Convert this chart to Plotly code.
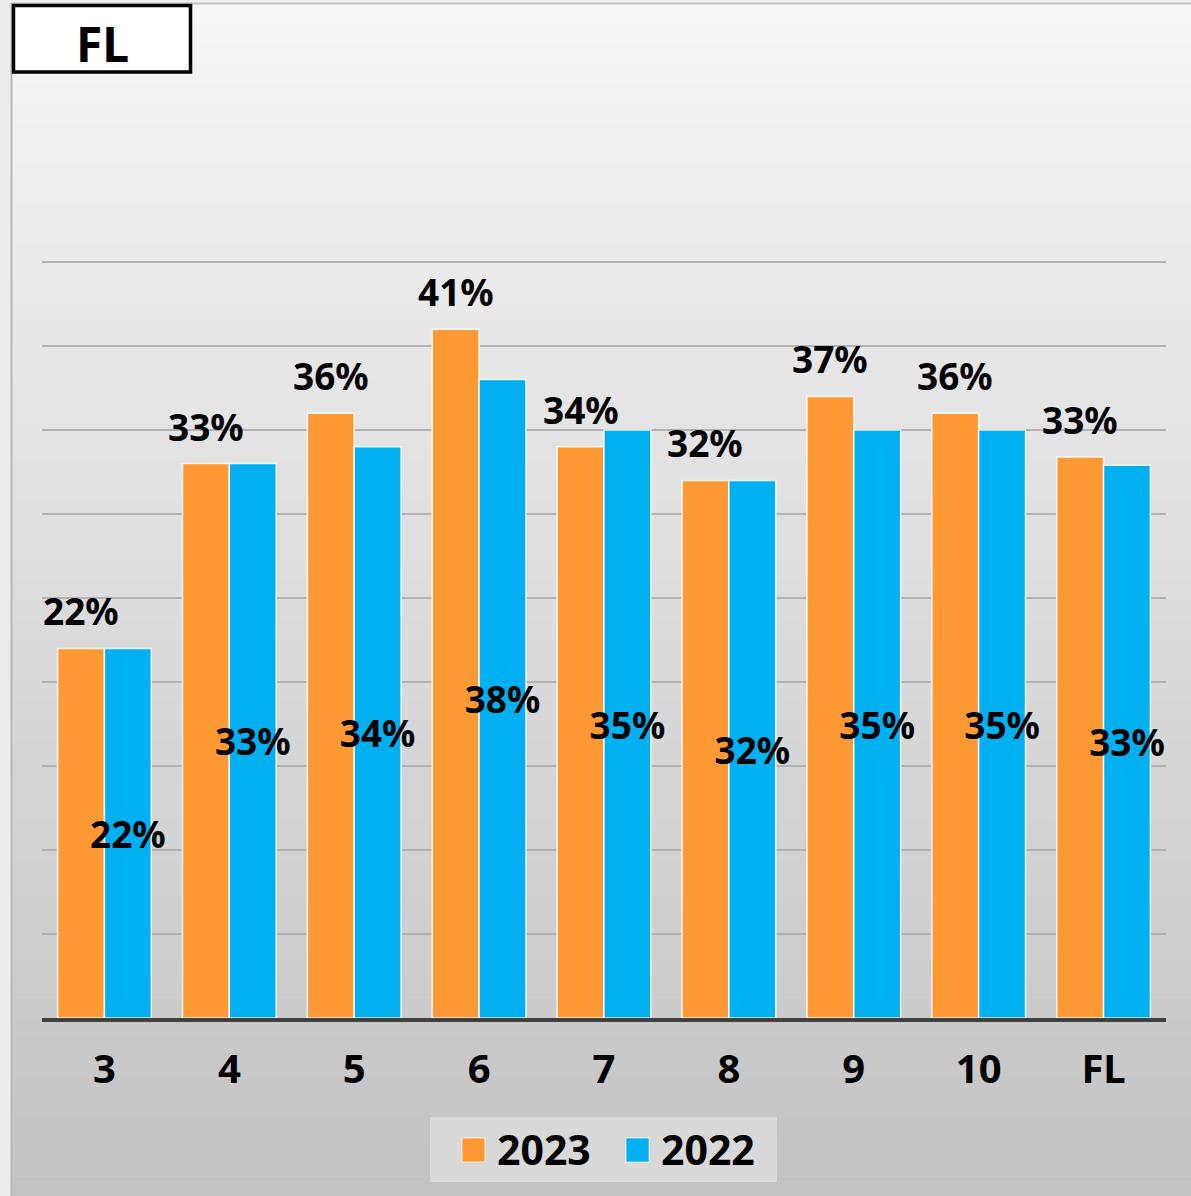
import plotly.graph_objects as go

categories = ["3", "4", "5", "6", "7", "8", "9", "10", "FL"]
values_2023 = [22, 33, 36, 41, 34, 32, 37, 36, 33.4]
values_2022 = [22, 33, 34, 38, 35, 32, 35, 35, 32.9]
series_names = ["2023", "2022"]
title_text = "FL"

ORANGE = "#FF9933"
BLUE = "#00B0F0"
FONT = "Noto Sans"

W, H = 1191, 1196
L, R, T, B = 42, 25, 259, 178
PW, PH = W - L - R, H - T - B
BARGAP = 0.25
Y_MAX = PH / 16.8


def px_x(x):
    return (x - L) / PW


def px_y(y):
    return (H - B - y) / PH


fig = go.Figure()
fig.add_trace(go.Bar(
    x=categories, y=values_2023, name=series_names[0],
    marker=dict(color=ORANGE, line=dict(color="rgba(255,255,255,0.85)", width=1.5)),
    showlegend=False,
))
fig.add_trace(go.Bar(
    x=categories, y=values_2022, name=series_names[1],
    marker=dict(color=BLUE, line=dict(color="rgba(255,255,255,0.85)", width=1.5)),
    texttemplate="%{y:.0f}%", textposition="inside", insidetextanchor="middle",
    textangle=0, constraintext="none", cliponaxis=False,
    textfont=dict(family=FONT, size=37, color="black", weight="bold"),
    showlegend=False,
))

shapes = []
n = 60
top_px, bot_px = 4, H
c_top, c_bot = 246, 195
for i in range(n):
    y0 = top_px + (bot_px - top_px) * i / n
    y1 = top_px + (bot_px - top_px) * (i + 1) / n
    c = round(c_top + (c_bot - c_top) * (i + 0.5) / n)
    shapes.append(dict(type="rect", xref="paper", yref="paper",
                       x0=px_x(12), x1=px_x(W + 1), y0=px_y(y1 + 0.5), y1=px_y(y0),
                       fillcolor=f"rgb({c},{c},{c})", line=dict(width=0), layer="below"))
shapes.append(dict(type="line", xref="paper", yref="paper", x0=px_x(11.5), x1=px_x(11.5),
                   y0=px_y(H), y1=px_y(3), line=dict(color="#b8b8b8", width=2), layer="below"))
shapes.append(dict(type="line", xref="paper", yref="paper", x0=px_x(11.5), x1=px_x(W + 1),
                   y0=px_y(3.5), y1=px_y(3.5), line=dict(color="#c4c4c4", width=2), layer="below"))
shapes.append(dict(type="rect", xref="paper", yref="paper", x0=px_x(13.5), x1=px_x(190.5),
                   y0=px_y(72), y1=px_y(5.5), fillcolor="white",
                   line=dict(color="black", width=3.5)))
shapes.append(dict(type="rect", xref="paper", yref="paper", x0=px_x(430), x1=px_x(777),
                   y0=px_y(1182), y1=px_y(1117), fillcolor="#d9d9d9", line=dict(width=0)))
shapes.append(dict(type="rect", xref="paper", yref="paper", x0=px_x(462), x1=px_x(485),
                   y0=px_y(1162), y1=px_y(1138), fillcolor=ORANGE,
                   line=dict(color="rgba(255,255,255,0.7)", width=1)))
shapes.append(dict(type="rect", xref="paper", yref="paper", x0=px_x(626), x1=px_x(649),
                   y0=px_y(1162), y1=px_y(1138), fillcolor=BLUE,
                   line=dict(color="rgba(255,255,255,0.7)", width=1)))

annotations = [
    dict(text=title_text, xref="paper", yref="paper", x=px_x(102), y=px_y(43),
         xanchor="center", yanchor="middle", showarrow=False,
         font=dict(family=FONT, size=48, color="black", weight="bold")),
    dict(text=series_names[0], xref="paper", yref="paper", x=px_x(495), y=px_y(1149),
         xanchor="left", yanchor="middle", showarrow=False,
         font=dict(family=FONT, size=41, color="black", weight="bold")),
    dict(text=series_names[1], xref="paper", yref="paper", x=px_x(659), y=px_y(1149),
         xanchor="left", yanchor="middle", showarrow=False,
         font=dict(family=FONT, size=41, color="black", weight="bold")),
]

# value labels above the 2023 bars (centered on the left bar of each group)
cat_px = PW / len(categories)
bar_px = cat_px * (1 - BARGAP) / 2
for i, v in enumerate(values_2023):
    annotations.append(dict(
        x=i, y=v, xref="x", yref="y", text=f"{v:.0f}%", showarrow=False,
        xanchor="center", yanchor="bottom", xshift=-bar_px / 2, yshift=10,
        font=dict(family=FONT, size=37, color="black", weight="bold"),
    ))

fig.update_layout(
    width=W, height=H,
    margin=dict(l=L, r=R, t=T, b=B, pad=0),
    paper_bgcolor="#ededed",
    plot_bgcolor="rgba(0,0,0,0)",
    barmode="group", bargap=BARGAP, bargroupgap=0,
    shapes=shapes, annotations=annotations,
    showlegend=False,
    font=dict(family=FONT, color="black"),
)
fig.update_xaxes(
    type="category", categoryorder="array", categoryarray=categories,
    range=[-0.5, len(categories) - 0.5],
    showgrid=False, showline=True, linecolor="#404040", linewidth=4,
    ticks="", ticklabelstandoff=13,
    tickfont=dict(family=FONT, size=40, color="black", weight="bold"),
)
fig.update_yaxes(
    range=[0, Y_MAX], dtick=5, showticklabels=False, showgrid=True,
    gridcolor="#b2b2b2", gridwidth=1.5, zeroline=False,
)

fig.write_html(
    "out.html",
    config={"displayModeBar": False},
    post_script="document.body.style.margin='0';document.body.style.overflow='hidden';",
)
